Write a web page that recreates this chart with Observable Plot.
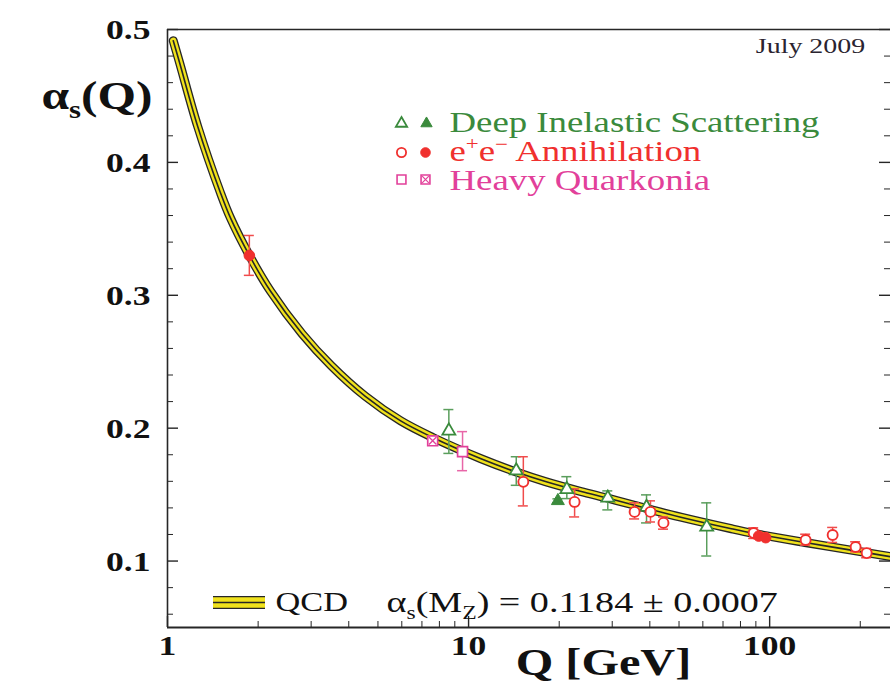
<!DOCTYPE html>
<html><head><meta charset="utf-8">
<script src="https://cdn.jsdelivr.net/npm/d3@7"></script>
<script src="https://cdn.jsdelivr.net/npm/@observablehq/plot@0.6"></script>
<style>body{margin:0;background:#fff}</style>
</head><body><div id="chart"></div>
<script>
// ---------- data ----------
const qcdQ     = [1.045, 1.1, 1.26, 1.5, 1.62, 1.87, 2.2, 2.8, 3.5, 4.54, 5.95, 7.6, 11, 14.4, 18, 23.5, 29, 35.6, 50.7, 74, 88.5, 131, 180, 252];
const qcdAlpha = [0.4915, 0.474, 0.427, 0.377, 0.358, 0.330, 0.303, 0.271, 0.247, 0.224, 0.2055, 0.193, 0.177, 0.167, 0.1598, 0.1525, 0.1473, 0.1420, 0.1330, 0.1245, 0.1208, 0.1140, 0.1088, 0.1033];

const disOpenQ  = [8.6, 14.4, 21.2, 29.0, 39.0, 61.8];
const disOpenA  = [0.198, 0.168, 0.154, 0.1475, 0.1405, 0.1257];
const disOpenLo = [0.181, 0.157, 0.147, 0.1385, 0.1287, 0.1038];
const disOpenHi = [0.214, 0.1785, 0.1635, 0.1528, 0.1498, 0.1438];

const disFullQ  = [19.8];
const disFullA  = [0.1453];
const disFullLo = [0.1438];
const disFullHi = [0.1468];

const eeOpenQ  = [15.2, 22.5, 35.6, 40.2, 44.4, 88.5, 131.7, 161.9, 193, 210];
const eeOpenA  = [0.1596, 0.1445, 0.137, 0.137, 0.1287, 0.1211, 0.1158, 0.1196, 0.1106, 0.106];
const eeOpenLo = [0.1415, 0.1332, 0.1317, 0.1294, 0.124, 0.117, 0.112, 0.114, 0.107, 0.1025];
const eeOpenHi = [0.1785, 0.1543, 0.1438, 0.1453, 0.1332, 0.125, 0.1202, 0.1253, 0.1145, 0.1095];

const eeFullQ  = [1.87, 92, 97];
const eeFullA  = [0.330, 0.1188, 0.1176];
const eeFullLo = [0.315, 0.1168, 0.1160];
const eeFullHi = [0.345, 0.1208, 0.1192];

const hqOpenQ  = [9.55];
const hqOpenA  = [0.1823];
const hqOpenLo = [0.168];
const hqOpenHi = [0.1974];

const hqCrossQ  = [7.6];
const hqCrossA  = [0.1905];
const hqCrossLo = [0.1885];
const hqCrossHi = [0.1925];

const yTicks = [0.1, 0.2, 0.3, 0.4, 0.5];
const yMinor = [0.06, 0.08, 0.12, 0.14, 0.16, 0.18, 0.22, 0.24, 0.26, 0.28, 0.32, 0.34, 0.36, 0.38, 0.42, 0.44, 0.46, 0.48];
const xTicks = [1, 10, 100];
const xMinor = [2, 3, 4, 5, 6, 7, 8, 9, 20, 30, 40, 50, 60, 70, 80, 90, 200];
const xTickLabels = ["1", "10", "100"];
const yTickLabels = ["0.1", "0.2", "0.3", "0.4", "0.5"];

const legendLabels = ["Deep Inelastic Scattering", "e^{+}e^{\u2212} Annihilation", "Heavy Quarkonia"];
const qcdLabel = "QCD";
const qcdValue = "\u03b1_{s}(M_{Z}) = 0.1184 \u00b1 0.0007";
const dateLabel = "July 2009";
const xTitle = "Q [GeV]";
const yTitle = "\u03b1_{s}(Q)";

// ---------- tables ----------
const zip = (Q, A, Lo, Hi) => Q.map((q, i) => ({q, a: A[i], lo: Lo ? Lo[i] : null, hi: Hi ? Hi[i] : null}));
const qcd = zip(qcdQ, qcdAlpha);
const disOpen = zip(disOpenQ, disOpenA, disOpenLo, disOpenHi);
const disFull = zip(disFullQ, disFullA, disFullLo, disFullHi);
const eeOpen = zip(eeOpenQ, eeOpenA, eeOpenLo, eeOpenHi);
const eeFull = zip(eeFullQ, eeFullA, eeFullLo, eeFullHi);
const hqOpen = zip(hqOpenQ, hqOpenA, hqOpenLo, hqOpenHi);
const hqCross = zip(hqCrossQ, hqCrossA, hqCrossLo, hqCrossHi);

// ---------- layout & style ----------
const W = 890, H = 682, ML = 167, MR = 0, MT = 29, MB = 55;
const PW = W - ML - MR, PH = H - MT - MB;
const serif = "'Liberation Serif', 'Times New Roman', serif";
const INK = "#262626";
const GREEN = "#3a8a3c", GREEN_BAR = "#5a9e5c";
const RED = "#f0302e", RED_BAR = "#f04c4c";
const PINK = "#e2409a", PINK_BAR = "#e866a8";
const YELLOW = "#f0e21c";
const STRETCH = 1.27;

const label = (text, px, py, o = {}) =>
  Plot.text([text], {text: d => d, frameAnchor: "top-left", dx: px - ML, dy: py - MT,
    textAnchor: "middle", lineAnchor: "middle", fontFamily: serif, ...o});
const legendDot = (px, py, o) =>
  Plot.dot([0], {frameAnchor: "top-left", dx: px - ML, dy: py - MT, ...o});

function errMarks(data, color) {
  const s = {stroke: color, strokeWidth: 1.5};
  return [
    Plot.ruleX(data, {x: "q", y1: "lo", y2: "hi", ...s}),
    Plot.ruleY(data, {y: "lo", x1: "q", x2: "q", insetLeft: -5, insetRight: -5, ...s}),
    Plot.ruleY(data, {y: "hi", x1: "q", x2: "q", insetLeft: -5, insetRight: -5, ...s})
  ];
}

const chart = Plot.plot({
  width: W, height: H,
  marginLeft: ML, marginRight: MR, marginTop: MT, marginBottom: MB,
  style: {background: "white", fontFamily: serif, overflow: "visible"},
  x: {type: "log", domain: [1, 252], axis: null},
  y: {domain: [0.05, 0.5], axis: null},
  marks: [
    // QCD band
    Plot.line(qcd, {x: "q", y: "a", stroke: INK, strokeWidth: 9, curve: "catmull-rom"}),
    Plot.line(qcd, {x: "q", y: "a", stroke: YELLOW, strokeWidth: 6.4, curve: "catmull-rom"}),
    Plot.line(qcd, {x: "q", y: "a", stroke: INK, strokeWidth: 1.6, curve: "catmull-rom"}),

    // error bars
    ...errMarks(disOpen, GREEN_BAR),
    ...errMarks(disFull, GREEN_BAR),
    ...errMarks(eeOpen, RED_BAR),
    ...errMarks(eeFull, RED_BAR),
    ...errMarks(hqOpen, PINK_BAR),
    ...errMarks(hqCross, PINK_BAR),

    // markers
    Plot.dot(disOpen, {x: "q", y: "a", symbol: "triangle", r: 4.8, fill: "white", stroke: GREEN, strokeWidth: 1.8}),
    Plot.dot(disFull, {x: "q", y: "a", symbol: "triangle", r: 4.8, fill: GREEN, stroke: GREEN, strokeWidth: 1}),
    Plot.dot(eeOpen, {x: "q", y: "a", symbol: "circle", r: 5, fill: "white", stroke: RED, strokeWidth: 1.9}),
    Plot.dot(eeFull, {x: "q", y: "a", symbol: "circle", r: 5.3, fill: RED, stroke: RED, strokeWidth: 1}),
    Plot.dot(hqOpen, {x: "q", y: "a", symbol: "square", r: 5.6, fill: "white", stroke: PINK, strokeWidth: 1.7}),
    Plot.dot(hqCross, {x: "q", y: "a", symbol: "square", r: 5.6, fill: "white", stroke: PINK, strokeWidth: 1.7}),
    Plot.dot(hqCross, {x: "q", y: "a", symbol: "times", r: 3.5, stroke: PINK, strokeWidth: 1.3}),

    // frame (left, top, bottom)
    Plot.ruleX([1], {stroke: INK, strokeWidth: 1.6}),
    Plot.ruleY([0.5], {stroke: INK, strokeWidth: 1.4}),
    Plot.ruleY([0.05], {stroke: INK, strokeWidth: 1.8}),

    // ticks (inward)
    Plot.ruleY(yTicks, {insetRight: PW - 11, stroke: INK, strokeWidth: 1.4}),
    Plot.ruleY(yMinor, {insetRight: PW - 6, stroke: INK, strokeWidth: 1}),
    Plot.ruleY(yTicks, {insetLeft: PW - 11, stroke: INK, strokeWidth: 1.4}),
    Plot.ruleY(yMinor, {insetLeft: PW - 6, stroke: INK, strokeWidth: 1}),
    Plot.ruleX(xTicks, {insetTop: PH - 11, stroke: INK, strokeWidth: 1.4}),
    Plot.ruleX(xMinor, {insetTop: PH - 6, stroke: INK, strokeWidth: 1}),

    // tick labels
    Plot.text(yTicks, {y: d => d, text: (d, i) => yTickLabels[i], frameAnchor: "left", dx: -17, dy: 1,
      textAnchor: "end", lineAnchor: "middle", fontSize: 28, fontWeight: "bold", fill: "#111", fontFamily: serif}),
    Plot.text(xTicks, {x: d => d, text: (d, i) => xTickLabels[i], frameAnchor: "bottom", dy: 19,
      textAnchor: "middle", lineAnchor: "middle", fontSize: 28, fontWeight: "bold", fill: "#111", fontFamily: serif}),

    // axis titles
    label(xTitle, 603, 662, {fontSize: 38, fontWeight: "bold", fill: "#111"}),
    label(yTitle, 152, 96, {fontSize: 39, fontWeight: "bold", fill: "#111", textAnchor: "end"}),

    // date
    label(dateLabel, 810, 45, {fontSize: 22, fill: "#2a2430"}),

    // legend (top)
    legendDot(401, 123, {symbol: "triangle", r: 4.2, fill: "white", stroke: GREEN, strokeWidth: 1.8}),
    legendDot(426, 123, {symbol: "triangle", r: 4.2, fill: GREEN, stroke: GREEN, strokeWidth: 1}),
    legendDot(401, 152, {symbol: "circle", r: 4.6, fill: "white", stroke: RED, strokeWidth: 1.8}),
    legendDot(425, 152, {symbol: "circle", r: 4.8, fill: RED, stroke: RED, strokeWidth: 1}),
    legendDot(401, 179, {symbol: "square", r: 5, fill: "white", stroke: PINK, strokeWidth: 1.6}),
    legendDot(425, 179, {symbol: "square", r: 5, fill: "white", stroke: PINK, strokeWidth: 1.6}),
    legendDot(425, 179, {symbol: "times", r: 3.1, stroke: PINK, strokeWidth: 1.2}),
    label(legendLabels[0], 449, 122, {fontSize: 29, fill: GREEN, textAnchor: "start"}),
    label(legendLabels[1], 449, 151, {fontSize: 29, fill: RED, textAnchor: "start"}),
    label(legendLabels[2], 449, 180, {fontSize: 29, fill: PINK, textAnchor: "start"}),

    // legend (bottom): band swatch + text
    Plot.ruleY([0.05], {dy: 602 - (H - MB), insetLeft: 213 - ML, insetRight: W - MR - 265, stroke: INK, strokeWidth: 13}),
    Plot.ruleY([0.05], {dy: 599 - (H - MB), insetLeft: 213 - ML, insetRight: W - MR - 265, stroke: YELLOW, strokeWidth: 4.3}),
    Plot.ruleY([0.05], {dy: 605 - (H - MB), insetLeft: 213 - ML, insetRight: W - MR - 265, stroke: YELLOW, strokeWidth: 4.3}),
    label(qcdLabel, 275, 602, {fontSize: 27, fill: "#111", textAnchor: "start"}),
    label(qcdValue, 386, 602, {fontSize: 30, fill: "#111", textAnchor: "start"})
  ]
});

document.getElementById("chart").append(chart);

// rich text (sub/superscripts) and horizontal stretch of glyphs as in the reference
const NS = "http://www.w3.org/2000/svg";
function richify(el) {
  const s = el.textContent;
  if (!/[_^]\{/.test(s)) return;
  const fs = parseFloat(getComputedStyle(el).fontSize) || 20;
  el.textContent = "";
  let cur = 0;
  const re = /([_^])\{([^}]*)\}|([^_^]+)/g;
  let m;
  while ((m = re.exec(s))) {
    const ts = document.createElementNS(NS, "tspan");
    let target = 0, txt;
    if (m[1]) {
      target = m[1] === "_" ? 0.22 * fs : -0.36 * fs;
      ts.setAttribute("font-size", (0.62 * fs).toFixed(1));
      txt = m[2];
    } else txt = m[3];
    ts.setAttribute("dy", (target - cur).toFixed(2));
    cur = target;
    ts.textContent = txt;
    el.appendChild(ts);
  }
}
chart.querySelectorAll("text").forEach(t => {
  richify(t);
  t.setAttribute("transform", (t.getAttribute("transform") || "") + ` scale(${STRETCH},1)`);
});
</script>
</body></html>
